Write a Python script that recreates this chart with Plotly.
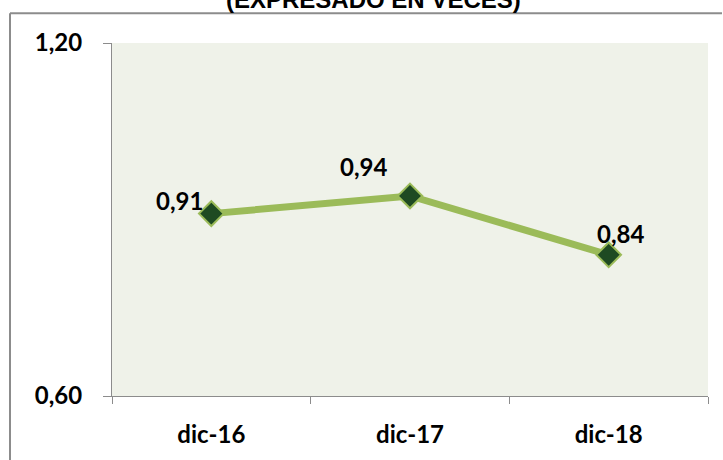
import plotly.graph_objects as go

# ---- data ----
categories = ["dic-16", "dic-17", "dic-18"]
values = [0.91, 0.94, 0.84]
value_labels = ["0,91", "0,94", "0,84"]
y_ticks = [0.60, 1.20]
title_text = "(EXPRESADO EN VECES)"

W, H = 723, 460
L, R, T, B = 112, 15, 43, 60
pw, ph = W - L - R, H - T - B

def px_x(px):
    return (px - L) / pw

def px_y(py):
    return (H - B - py) / ph

LINE_GREEN = "#9BBB59"
DARK_GREEN = "#1E4A22"
GRAY = "#8C8C8C"
FONT = "Lato"

fig = go.Figure()
fig.add_trace(go.Scatter(
    x=categories, y=values, mode="lines+markers",
    line=dict(color=LINE_GREEN, width=7),
    marker=dict(symbol="diamond", size=19, color=DARK_GREEN,
                line=dict(color=LINE_GREEN, width=2)),
    hoverinfo="skip", showlegend=False,
))

shifts = [(-32, 13), (-47, 29), (12, 21)]
for c, v, t, (dx, dy) in zip(categories, values, value_labels, shifts):
    fig.add_annotation(x=c, y=v, text=t, showarrow=False, xshift=dx, yshift=dy,
                       font=dict(family=FONT, size=24, color="#000000", weight="bold"))

fig.add_annotation(xref="paper", yref="paper", x=px_x(373), y=px_y(15),
                   xanchor="center", yanchor="bottom", text="<b>" + title_text + "</b>",
                   showarrow=False,
                   font=dict(family="Liberation Sans", size=24, color="#000000"))

# outer frame
for (x0, y0, x1, y1) in [(10, 13, 722, 13), (10, 13, 10, 470)]:
    fig.add_shape(type="line", xref="paper", yref="paper",
                  x0=px_x(x0), y0=px_y(y0), x1=px_x(x1), y1=px_y(y1),
                  line=dict(color=GRAY, width=2), layer="above")

fig.update_layout(
    width=W, height=H,
    margin=dict(l=L, r=R, t=T, b=B, pad=0),
    paper_bgcolor="white", plot_bgcolor="#EFF2E9",
    separators=",.",
    xaxis=dict(range=[-0.5, 2.5], showline=True, linecolor=GRAY, linewidth=1,
               ticks="outside", tickson="boundaries", ticklen=7, tickcolor=GRAY,
               showgrid=False, zeroline=False, ticklabelstandoff=17,
               tickfont=dict(family=FONT, size=24, color="#000000", weight="bold")),
    yaxis=dict(range=[0.6, 1.2], tickvals=y_ticks, tickformat=".2f",
               showline=True, linecolor=GRAY, linewidth=1,
               ticks="outside", ticklen=8, tickcolor=GRAY,
               showgrid=True, gridcolor=GRAY, gridwidth=1, zeroline=False,
               ticklabelstandoff=16,
               tickfont=dict(family=FONT, size=24, color="#000000", weight="bold")),
)

fig.write_html("out.html", config={"displayModeBar": False},
               post_script=("document.body.style.margin='0px';"
                            "var d=document.getElementById('{plot_id}');"
                            "d.style.position='fixed';d.style.top='0px';d.style.left='0px';"))
